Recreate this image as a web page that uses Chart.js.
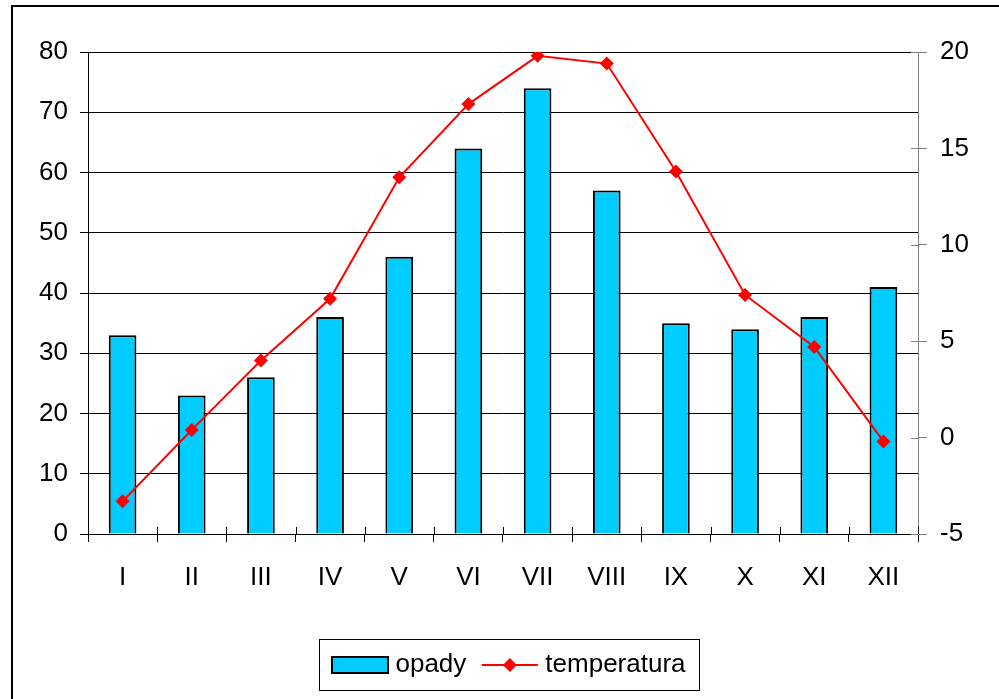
<!DOCTYPE html>
<html>
<head>
<meta charset="utf-8">
<script src="https://cdn.jsdelivr.net/npm/chart.js@4/dist/chart.umd.min.js"></script>
<style>
    html, body { margin: 0; padding: 0; background: #fff; }
    #wrap { width: 999px; height: 699px; position: relative; }
</style>
</head>
<body>
<div id="wrap"><canvas id="chart" width="999" height="699"></canvas></div>
<script>
const months = ['I', 'II', 'III', 'IV', 'V', 'VI', 'VII', 'VIII', 'IX', 'X', 'XI', 'XII'];
const opady = [33, 23, 26, 36, 46, 64, 74, 57, 35, 34, 36, 41];
const temperatura = [-3.3, 0.4, 4.0, 7.2, 13.5, 17.3, 19.8, 19.4, 13.8, 7.4, 4.7, -0.2];

const FONT = "'Liberation Sans', Arial, sans-serif";
const BAR_COLOR = '#00CCFF';
const LINE_COLOR = '#FF0000';

// legend icons drawn on small canvases
function barIcon() {
    const c = document.createElement('canvas');
    c.width = 58; c.height = 18;
    const g = c.getContext('2d');
    g.fillStyle = BAR_COLOR;
    g.fillRect(1, 1, 56, 16);
    g.strokeStyle = '#000';
    g.lineWidth = 2;
    g.strokeRect(1, 1, 56, 16);
    return c;
}
function lineIcon() {
    const c = document.createElement('canvas');
    c.width = 58; c.height = 16;
    const g = c.getContext('2d');
    g.strokeStyle = LINE_COLOR;
    g.lineWidth = 2;
    g.beginPath(); g.moveTo(1, 8); g.lineTo(57, 8); g.stroke();
    g.fillStyle = LINE_COLOR;
    g.beginPath();
    g.moveTo(29, 1); g.lineTo(36, 8); g.lineTo(29, 15); g.lineTo(22, 8);
    g.closePath(); g.fill();
    return c;
}
const icons = [barIcon(), lineIcon()];

const framePlugin = {
    id: 'frame',
    afterDraw(chart) {
        const ctx = chart.ctx;
        const area = chart.chartArea;
        ctx.save();
        // outer frame
        ctx.strokeStyle = '#000';
        ctx.lineWidth = 2;
        ctx.strokeRect(12, 6, 2000, 2000);

        // inner halves of the x ticks
        const x = chart.scales.x;
        ctx.lineWidth = 1;
        ctx.strokeStyle = '#000';
        for (let i = 0; i <= months.length; i++) {
            let px;
            if (i === 0) px = area.left;
            else if (i === months.length) px = area.right;
            else px = (x.getPixelForValue(i - 1) + x.getPixelForValue(i)) / 2;
            px = Math.round(px) + 0.5;
            ctx.beginPath();
            ctx.moveTo(px, area.bottom);
            ctx.lineTo(px, area.bottom - 7);
            ctx.stroke();
        }
        // inner halves of the right ticks
        const y1 = chart.scales.y1;
        ctx.strokeStyle = '#808080';
        y1.ticks.forEach(t => {
            const py = Math.round(y1.getPixelForValue(t.value)) + 0.5;
            ctx.beginPath();
            ctx.moveTo(area.right - 7, py);
            ctx.lineTo(area.right, py);
            ctx.stroke();
        });

        // legend box
        const boxes = chart.legend.legendHitBoxes;
        if (boxes && boxes.length) {
            const first = boxes[0];
            const last = boxes[boxes.length - 1];
            const l = Math.round(first.left) - 17.5;
            const r = Math.round(last.left + last.width) + 13.5;
            const t = Math.round(first.top) - 12.5;
            const b = Math.round(first.top + first.height) + 12.5;
            ctx.strokeStyle = '#000';
            ctx.lineWidth = 1;
            ctx.strokeRect(l, t, r - l, b - t);
        }
        ctx.restore();
    }
};

new Chart(document.getElementById('chart').getContext('2d'), {
    type: 'bar',
    data: {
        labels: months,
        datasets: [
            {
                type: 'line',
                label: 'temperatura',
                data: temperatura,
                yAxisID: 'y1',
                borderColor: LINE_COLOR,
                backgroundColor: LINE_COLOR,
                borderWidth: 2,
                pointStyle: 'rectRot',
                pointRadius: 7,
                pointBorderWidth: 0,
                tension: 0,
                order: 0
            },
            {
                label: 'opady',
                data: opady,
                yAxisID: 'y',
                backgroundColor: BAR_COLOR,
                borderColor: '#000',
                borderWidth: 2,
                barPercentage: 0.4,
                categoryPercentage: 1,
                order: 1
            }
        ]
    },
    options: {
        responsive: false,
        animation: false,
        layout: { padding: { left: 24, right: 0, top: 52, bottom: 11 } },
        plugins: {
            tooltip: { enabled: false },
            legend: {
                position: 'bottom',
                labels: {
                    color: '#000',
                    font: { family: FONT, size: 26 },
                    usePointStyle: true,
                    pointStyleWidth: 45,
                    padding: 21,
                    generateLabels(chart) {
                        return [
                            { text: 'opady', pointStyle: icons[0], fillStyle: BAR_COLOR, strokeStyle: '#000', lineWidth: 0, datasetIndex: 1, fontColor: '#000' },
                            { text: 'temperatura', pointStyle: icons[1], fillStyle: LINE_COLOR, strokeStyle: LINE_COLOR, lineWidth: 0, datasetIndex: 0, fontColor: '#000' }
                        ];
                    }
                }
            }
        },
        scales: {
            x: {
                offset: true,
                grid: { offset: true, drawOnChartArea: false, color: '#000', tickLength: 8 },
                border: { color: '#000', width: 1 },
                ticks: { color: '#000', font: { family: FONT, size: 26 }, padding: 20, maxRotation: 0 },
                afterFit(scale) { scale.height = 97; }
            },
            y: {
                position: 'left',
                min: 0, max: 80,
                ticks: { stepSize: 10, color: '#000', font: { family: FONT, size: 26 }, padding: 12 },
                grid: { color: '#000', lineWidth: 1, tickLength: 8 },
                border: { color: '#000', width: 1 },
                afterFit(scale) { scale.width = 64; }
            },
            y1: {
                position: 'right',
                min: -5, max: 20,
                ticks: { stepSize: 5, color: '#000', font: { family: FONT, size: 26 }, padding: 13 },
                grid: { drawOnChartArea: false, color: '#808080', tickLength: 9 },
                border: { color: '#808080', width: 1 },
                afterFit(scale) { scale.width = 81; }
            }
        }
    },
    plugins: [framePlugin]
});
</script>
</body>
</html>
